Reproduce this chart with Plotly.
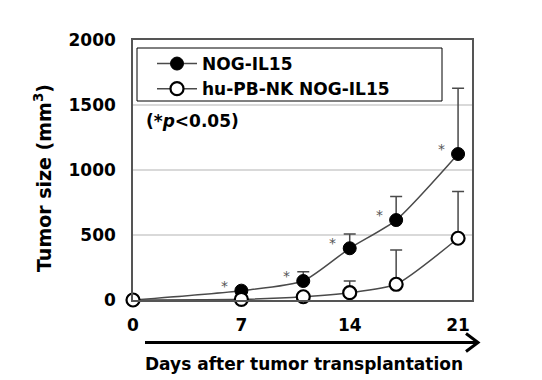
import plotly.graph_objects as go

days = [0, 7, 11, 14, 17, 21]
nog_il15 = [0, 72, 146, 398, 615, 1123]
nog_il15_err = [0, 0, 72, 110, 181, 505]
hu_nk = [0, 5, 25, 56, 121, 475]
hu_nk_err = [0, 0, 0, 90, 264, 360]
sig_days = [7, 11, 14, 17, 21]
x_ticks = [0, 7, 14, 21]
y_ticks = [0, 500, 1000, 1500, 2000]

FONT = "DejaVu Sans"
LINE = "#4a4a4a"

# page body has an 8px default margin; compensate so the figure lines up with the window
OFF = 8
W, H = 542 - OFF, 380 - OFF
# plot-area in window pixels
L, R, T, B = 133, 472, 40, 300
def px(x):
    return (x - L) / (R - L)
def py(y):
    return (B - y) / (B - T)

fig = go.Figure()
fig.add_trace(go.Scatter(
    x=days, y=nog_il15, name="<b>NOG-IL15</b>", mode="lines+markers",
    line=dict(color=LINE, width=1.5, shape="spline", smoothing=0.6),
    marker=dict(symbol="circle", size=13, color="black", line=dict(color="black", width=1)),
    error_y=dict(type="data", array=nog_il15_err, arrayminus=[0]*len(days), symmetric=False,
                 color=LINE, thickness=1.5, width=6),
    cliponaxis=False,
))
fig.add_trace(go.Scatter(
    x=days, y=hu_nk, name="<b>hu-PB-NK NOG-IL15</b>", mode="lines+markers",
    line=dict(color=LINE, width=1.5, shape="spline", smoothing=0.6),
    marker=dict(symbol="circle", size=13, color="white", line=dict(color="black", width=2.2)),
    error_y=dict(type="data", array=hu_nk_err, arrayminus=[0]*len(days), symmetric=False,
                 color=LINE, thickness=1.5, width=6),
    cliponaxis=False,
))

# significance asterisks
for d in sig_days:
    i = days.index(d)
    fig.add_annotation(x=d, y=nog_il15[i], xref="x", yref="y", text="*",
                       showarrow=False, xshift=-17, yshift=5,
                       font=dict(family=FONT, size=14, color="#555555"))

fig.add_annotation(x=px(144), y=py(121), xref="paper", yref="paper",
                   text="<b>(*<i>p</i>&lt;0.05)</b>", showarrow=False,
                   xanchor="left", yanchor="middle",
                   font=dict(family=FONT, size=17, color="black"))

# y-axis title
fig.add_annotation(x=px(43), y=py(178), xref="paper", yref="paper",
                   text="<b>Tumor size (mm<sup>3</sup>)</b>", showarrow=False, textangle=-90,
                   xanchor="center", yanchor="middle",
                   font=dict(family=FONT, size=19, color="black"))

# legend frame
fig.add_shape(type="rect", xref="paper", yref="paper",
              x0=px(137), x1=px(442), y0=py(101), y1=py(48),
              line=dict(color="black", width=1), fillcolor="rgba(0,0,0,0)", layer="above")

# x-axis arrow below ticks
ay = py(342.5)
fig.add_shape(type="line", xref="paper", yref="paper",
              x0=px(145), x1=px(477), y0=ay, y1=ay,
              line=dict(color="black", width=3))
fig.add_shape(type="path", xref="paper", yref="paper",
              path="M {a},{b} L {c},{d} L {a},{e}".format(
                  a=px(466), b=ay + 9 / (B - T), c=px(478), d=ay, e=ay - 9 / (B - T)),
              line=dict(color="black", width=3), fillcolor="rgba(0,0,0,0)")
fig.add_annotation(x=px(304), y=py(364), xref="paper", yref="paper",
                   text="<b>Days after tumor transplantation</b>", showarrow=False,
                   xanchor="center", yanchor="middle",
                   font=dict(family=FONT, size=17, color="black"))

fig.update_layout(
    width=W, height=H,
    margin=dict(l=L - OFF, r=W - (R - OFF), t=T - OFF, b=H - (B - OFF), autoexpand=False),
    paper_bgcolor="white", plot_bgcolor="white",
    font=dict(family=FONT, color="black"),
    showlegend=True,
    legend=dict(x=px(152), y=py(46), xanchor="left", yanchor="top",
                bgcolor="rgba(0,0,0,0)", borderwidth=0,
                font=dict(family=FONT, size=17, color="black"),
                tracegroupgap=0, itemwidth=40),
    xaxis=dict(range=[0, 21.9], tickvals=x_ticks, ticktext=[f"<b>{t}</b>" for t in x_ticks],
               showgrid=False, zeroline=False, showline=True, mirror=True, automargin=False,
               linecolor="#555555", linewidth=1.5, ticks="", ticklabelstandoff=9,
               tickfont=dict(family=FONT, size=17, color="black")),
    yaxis=dict(range=[0, 2000], tickvals=y_ticks, ticktext=[f"<b>{t}</b>" for t in y_ticks],
               showgrid=True, gridcolor="#d9d9d9", gridwidth=1.5, zeroline=False, automargin=False,
               showline=True, mirror=True, linecolor="#555555", linewidth=1.5, ticks="",
               ticklabelstandoff=12,
               tickfont=dict(family=FONT, size=17, color="black")),
)

fig.write_html("out.html")
